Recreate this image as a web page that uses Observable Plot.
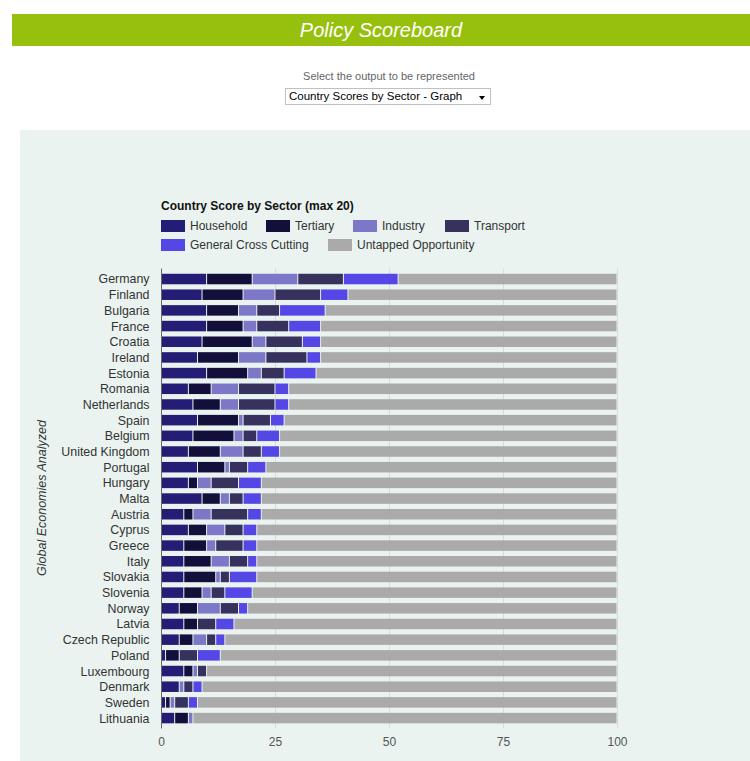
<!DOCTYPE html>
<html>
<head>
<meta charset="utf-8">
<script src="https://cdn.jsdelivr.net/npm/d3@7"></script>
<script src="https://cdn.jsdelivr.net/npm/@observablehq/plot@0.6"></script>
<style>
  html, body { margin: 0; padding: 0; background: #ffffff; }
  body { width: 750px; height: 761px; position: relative; overflow: hidden; font-family: "Liberation Sans", Arial, sans-serif; }
  #banner { position: absolute; left: 12px; top: 14px; width: 738px; height: 32px; background: #97bf0d; }
  #banner span { position: absolute; left: 0; right: 0; top: 0; line-height: 32px; text-align: center; color: #ffffff; font-style: italic; font-size: 20px; }
  #selLabel { position: absolute; left: 0; width: 778px; top: 70px; text-align: center; color: #666; font-size: 11px; }
  #select { position: absolute; left: 285px; top: 88px; width: 206px; height: 17px; border: 1px solid #c0c0c0; background: #fff; font-size: 11.5px; line-height: 15px; color: #000; box-sizing: border-box; padding-left: 3px; }
  #select .arr { position: absolute; right: 5px; top: 7px; width: 0; height: 0; border-left: 3.5px solid transparent; border-right: 3.5px solid transparent; border-top: 4px solid #000; }
  #panel { position: absolute; left: 20px; top: 130px; width: 730px; height: 640px; background: #eaf3f0; }
  #ctitle { position: absolute; left: 161px; top: 199px; font-weight: bold; font-size: 12px; color: #111; }
  .leg { position: absolute; font-size: 12px; color: #333; line-height: 13px; white-space: nowrap; }
  .leg i { display: inline-block; width: 24px; height: 12px; vertical-align: top; margin-right: 5px; }
  #ylab { position: absolute; left: 42px; top: 498px; transform: translate(-50%, -50%) rotate(-90deg); font-style: italic; font-size: 12.5px; color: #333; white-space: nowrap; }
  #chart { position: absolute; left: 0; top: 260px; }
</style>
</head>
<body>
<div id="banner"><span>Policy Scoreboard</span></div>
<div id="selLabel">Select the output to be represented</div>
<div id="select">Country Scores by Sector - Graph<div class="arr"></div></div>
<div id="panel"></div>
<div id="ctitle">Country Score by Sector (max 20)</div>
<div id="legend"></div>
<div id="ylab">Global Economies Analyzed</div>
<div id="chart"></div>
<script>
const countries = ["Germany","Finland","Bulgaria","France","Croatia","Ireland","Estonia","Romania","Netherlands","Spain","Belgium","United Kingdom","Portugal","Hungary","Malta","Austria","Cyprus","Greece","Italy","Slovakia","Slovenia","Norway","Latvia","Czech Republic","Poland","Luxembourg","Denmark","Sweden","Lithuania"];
const sectors = ["Household","Tertiary","Industry","Transport","General Cross Cutting","Untapped Opportunity"];
const sectorColors = ["#231d75","#120f3b","#7c78c7","#36315d","#5447e6","#aaaaaa"];
const household = [10,9,10,10,9,8,10,6,7,8,7,6,8,6,9,5,6,5,5,5,5,4,5,4,1,5,4,1,3];
const tertiary  = [10,9,7,8,11,9,9,5,6,9,9,7,6,2,4,2,4,5,6,7,4,4,3,3,3,2,0,1,3];
const industry  = [10,7,4,3,3,6,3,6,4,1,2,5,1,3,2,4,4,2,4,1,2,5,0,3,0,1,1,1,1];
const transport = [10,10,5,7,8,9,5,8,8,6,3,4,4,6,3,8,4,6,4,2,3,4,4,2,4,2,2,3,0];
const crossCutting = [12,6,10,7,4,3,7,3,3,3,5,4,4,5,4,3,3,3,2,6,6,2,4,2,5,0,2,2,0];
const xTicks = [0,25,50,75,100];

const series = [household, tertiary, industry, transport, crossCutting];
const rows = [];
countries.forEach((c, i) => {
  let sum = 0;
  series.forEach((s, k) => { rows.push({country: c, sector: sectors[k], value: s[i]}); sum += s[i]; });
  rows.push({country: c, sector: sectors[5], value: 100 - sum});
});

// legend
const legPos = [[161,220],[266,220],[353,220],[445,220],[161,239],[328,239]];
const legend = document.getElementById("legend");
sectors.forEach((s, k) => {
  const d = document.createElement("div");
  d.className = "leg";
  d.style.left = legPos[k][0] + "px";
  d.style.top = legPos[k][1] + "px";
  d.innerHTML = `<i style="background:${sectorColors[k]}"></i>${s}`;
  legend.appendChild(d);
});

const chart = Plot.plot({
  width: 750,
  height: 501,
  marginLeft: 161,
  marginRight: 133,
  marginTop: 8.6,
  marginBottom: 32.5,
  style: {background: "transparent", fontFamily: "'Liberation Sans', Arial, sans-serif", fontSize: "12px", color: "#333"},
  x: {domain: [0, 100], label: null},
  y: {domain: countries, label: null, padding: 0.33, round: false},
  color: {domain: sectors, range: sectorColors},
  marks: [
    Plot.ruleX(xTicks.slice(1), {stroke: "#d6dcdb", strokeWidth: 1}),
    Plot.barX(rows, {x: "value", y: "country", fill: "sector", insetLeft: 0.5, insetRight: 0.5}),
    Plot.ruleX([0], {stroke: "#666", strokeWidth: 1}),
    Plot.axisX({ticks: xTicks, tickSize: 0, tickPadding: 8, fill: "#555", label: null}),
    Plot.axisY({tickSize: 0, tickPadding: 12, fill: "#333", label: null, fontSize: 12.4})
  ]
});
document.getElementById("chart").appendChild(chart);
</script>
</body>
</html>
